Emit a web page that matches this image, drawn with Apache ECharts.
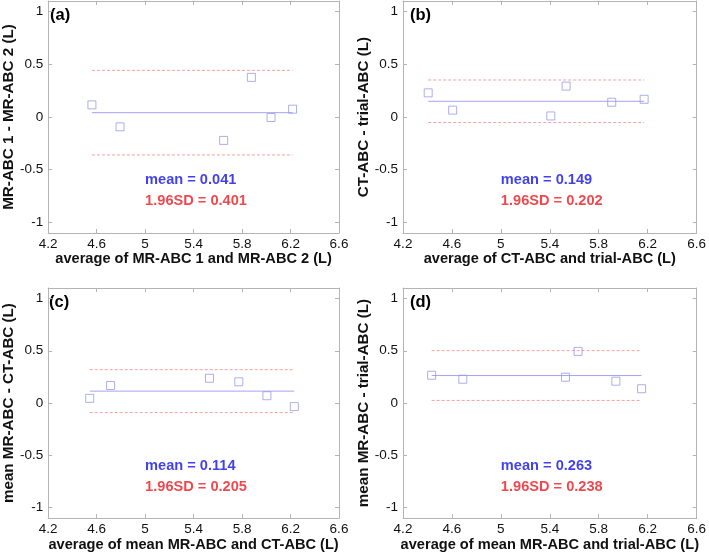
<!DOCTYPE html>
<html><head><meta charset="utf-8">
<script src="https://cdn.jsdelivr.net/npm/echarts@6/dist/echarts.min.js"></script>
<style>html,body{margin:0;padding:0;background:#fff}#c{width:709px;height:553px}</style>
</head><body><div id="c"></div>
<script>
// ---- data ----
const panelLabels = ['(a)', '(b)', '(c)', '(d)'];
const xTitles = [
  'average of MR-ABC 1 and MR-ABC 2 (L)',
  'average of CT-ABC and trial-ABC (L)',
  'average of mean MR-ABC and CT-ABC (L)',
  'average of mean MR-ABC and trial-ABC (L)'
];
const yTitles = [
  'MR-ABC 1 - MR-ABC 2 (L)',
  'CT-ABC - trial-ABC (L)',
  'mean MR-ABC - CT-ABC (L)',
  'mean MR-ABC - trial-ABC (L)'
];
const avgA = [4.561, 4.793, 5.648, 5.877, 6.039, 6.217];
const diffA = [0.115, -0.093, -0.222, 0.376, -0.005, 0.074];
const avgB = [4.406, 4.606, 5.408, 5.533, 5.906, 6.171];
const diffB = [0.229, 0.065, 0.010, 0.293, 0.140, 0.168];
const avgC = [4.543, 4.715, 5.531, 5.773, 6.005, 6.231];
const diffC = [0.045, 0.168, 0.237, 0.203, 0.070, -0.034];
const avgD = [4.434, 4.689, 5.528, 5.631, 5.940, 6.150];
const diffD = [0.266, 0.228, 0.247, 0.494, 0.209, 0.137];
const meanVals = [0.041, 0.149, 0.114, 0.263];
const sdVals = [0.401, 0.202, 0.205, 0.238];
const xTicks = [4.2, 4.6, 5, 5.4, 5.8, 6.2, 6.6];
const yTicks = [-1, -0.5, 0, 0.5, 1];
const xRange = [4.2, 6.6];
const yRange = [-1.1, 1.1];
// annotation anchor (data units)
const noteX = 5;
const noteY = [-0.6, -0.8];

// ---- layout ----
const grids = [
  {left: 43, top: 1, width: 296, height: 232},
  {left: 403, top: 1, width: 296, height: 232},
  {left: 42, top: 288, width: 297, height: 232},
  {left: 403, top: 288, width: 297, height: 231}
];
const FONT = '"Liberation Sans", Arial, sans-serif';
const boxColor = '#b4b4b4';
const markerColor = '#9a9ae8';
const meanColor = '#a4a4f2';
const limColor = '#f5a0a0';
const avgs = [avgA, avgB, avgC, avgD];
const diffs = [diffA, diffB, diffC, diffD];

const xAxis = [], yAxis = [], series = [], graphic = [];
grids.forEach((g, i) => {
  const common = {
    type: 'value', gridIndex: i, splitLine: {show: false},
    axisLine: {show: true, onZero: false, lineStyle: {color: boxColor, width: 1}},
  };
  xAxis.push(Object.assign({}, common, {
    position: 'bottom', min: xRange[0], max: xRange[1],
    axisTick: {show: true, inside: true, length: 4, customValues: xTicks, lineStyle: {color: boxColor}},
    axisLabel: {show: true, customValues: xTicks, margin: 4, fontSize: 13.5, color: '#111', fontFamily: FONT},
    name: xTitles[i], nameLocation: 'middle', nameGap: 17,
    nameTextStyle: {fontSize: 14.6, fontWeight: 'bold', color: '#111', fontFamily: FONT}
  }));
  xAxis.push(Object.assign({}, common, {
    position: 'top', min: xRange[0], max: xRange[1],
    axisTick: {show: true, inside: true, length: 4, customValues: xTicks, lineStyle: {color: boxColor}},
    axisLabel: {show: false}
  }));
  yAxis.push(Object.assign({}, common, {
    position: 'left', min: yRange[0], max: yRange[1],
    axisTick: {show: true, inside: true, length: 4, customValues: yTicks, lineStyle: {color: boxColor}},
    axisLabel: {show: true, customValues: yTicks, margin: 5, fontSize: 13.5, color: '#111', fontFamily: FONT},
    name: yTitles[i], nameLocation: 'middle', nameGap: 27, nameRotate: 90,
    nameTextStyle: {fontSize: 15.2, fontWeight: 'bold', color: '#111', fontFamily: FONT}
  }));
  yAxis.push(Object.assign({}, common, {
    position: 'right', min: yRange[0], max: yRange[1],
    axisTick: {show: true, inside: true, length: 4, customValues: yTicks, lineStyle: {color: boxColor}},
    axisLabel: {show: false}
  }));
  const xi = i * 2, yi = i * 2;
  const xs = avgs[i], ys = diffs[i];
  const x0 = Math.min(...xs), x1 = Math.max(...xs);
  const m = meanVals[i], sd = sdVals[i];
  const lim = (v) => ({
    type: 'line', xAxisIndex: xi, yAxisIndex: yi, symbol: 'none', silent: true,
    data: [[x0, v], [x1, v]], lineStyle: {color: limColor, width: 1, type: [3, 2]}, z: 2
  });
  series.push(lim(m + sd));
  series.push(lim(m - sd));
  series.push({
    type: 'line', xAxisIndex: xi, yAxisIndex: yi, symbol: 'none', silent: true,
    data: [[x0, m], [x1, m]], lineStyle: {color: meanColor, width: 1}, z: 3
  });
  series.push({
    type: 'scatter', xAxisIndex: xi, yAxisIndex: yi, symbol: 'rect', symbolSize: 8,
    data: xs.map((x, k) => [x, ys[k]]),
    itemStyle: {color: 'rgba(255,255,255,0)', borderColor: markerColor, borderWidth: 1}, z: 4
  });
  series.push({
    type: 'scatter', xAxisIndex: xi, yAxisIndex: yi, symbol: 'rect', symbolSize: 0, silent: true,
    data: [
      {value: [noteX, noteY[0]], label: {color: '#1010ee'}},
      {value: [noteX, noteY[1]], label: {color: '#ea1c22'}}
    ],
    label: {
      show: true, position: 'right', distance: 0, fontFamily: FONT, fontSize: 14.6, fontWeight: 'bold',
      formatter: (p) => p.dataIndex === 0 ? 'mean = ' + m.toFixed(3) : '1.96SD = ' + sd.toFixed(3)
    },
    itemStyle: {color: '#0000ff'},
    z: 5
  });
  graphic.push({
    type: 'text', left: g.left + 7, top: g.top + 6,
    style: {text: panelLabels[i], font: 'bold 16.5px ' + FONT, fill: '#000'}
  });
});

const chart = echarts.init(document.getElementById('c'), null, {renderer: 'canvas'});
chart.setOption({
  animation: false,
  backgroundColor: '#fff',
  grid: grids,
  xAxis, yAxis, series, graphic
});
</script></body></html>
